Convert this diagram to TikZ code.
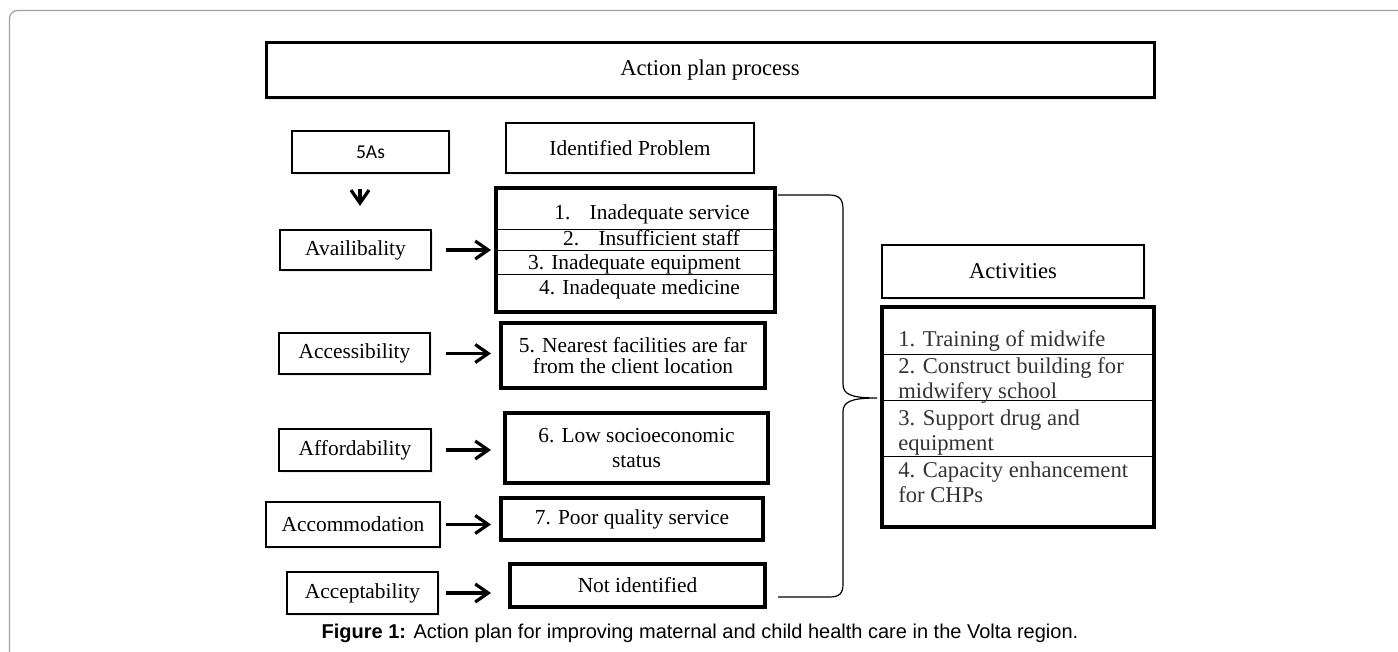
\documentclass[tikz,border=0pt]{standalone}
\usepackage{fontspec}
\setmainfont{Liberation Serif}
\newfontfamily\capfont{Liberation Sans}
\newfontfamily\calfont{Carlito}
\usepackage{tikz}
\usetikzlibrary{positioning,arrows.meta,shadows}
\def\txt{\fontsize{10.7}{12.5}\selectfont}
\def\bigtxt{\fontsize{11.3}{12.7}\selectfont}
\tikzset{
box/.style={draw, line width=1.1pt, inner sep=0pt, fill=white, drop shadow={opacity=0.15, shadow xshift=0.8pt, shadow yshift=-0.8pt}},
thickbox/.style={box, line width=1.7pt},
item/.style={inner sep=0pt, anchor=base},
sep/.style={line width=0.5pt},
arr/.style={-{Straight Barb[length=6.5pt,width=9pt]}, line width=1.6pt},
brace/.style={line width=0.6pt},
frame/.style={draw=gray!75, line width=0.6pt, rounded corners=4pt}
}

\begin{document}
\begin{tikzpicture}[x=0.5pt,y=-0.5pt,font=\txt]
\clip (0,0) rectangle (1398,652);
\draw[frame] (9.5,10.5) rectangle (1430,690);

\node[box, line width=1.5pt, minimum width=444pt, minimum height=27.5pt, font=\bigtxt] (title) at (710,70.5) {Action plan process};
\node[box, minimum width=78.5pt, minimum height=21pt, font=\calfont\fontsize{9.8}{11}\selectfont] (fiveA) at (370.5,152) {5As};
\node[box, minimum width=124pt, minimum height=25pt] (idprob) at (630,148) {Identified Problem};
\node[box, minimum width=131pt, minimum height=26.5pt, font=\bigtxt] (activ) at (1013,271.5) {Activities};

\node[box, minimum width=75.5pt, minimum height=20pt] (avail) at (355.5,250) {Availibality};
\node[box, minimum width=75.5pt, minimum height=20.5pt] (access) at (354.5,353.5) {Accessibility};
\node[box, minimum width=76pt, minimum height=21pt] (afford) at (355,450) {Affordability};
\node[box, minimum width=87pt, minimum height=22.5pt] (accom) at (353,524.5) {Accommodation};
\node[box, minimum width=75.5pt, minimum height=21pt] (accept) at (362.5,593) {Acceptability};

\node[thickbox, minimum width=139.5pt, minimum height=62pt] (prob) at (635.5,250) {};
\node[thickbox, minimum width=132pt, minimum height=32.5pt, align=center, font=\fontsize{10.7}{10.5}\selectfont] (near) at (633,355.5) {5. Nearest facilities are far\\from the client location};
\node[thickbox, minimum width=131.5pt, minimum height=35pt, align=center] (lowse) at (636.5,448) {6. Low socioeconomic\\status};
\node[thickbox, minimum width=131pt, minimum height=21pt] (poor) at (632,519) {7. Poor quality service};
\node[thickbox, minimum width=127.5pt, minimum height=21.5pt] (notid) at (637.5,585.5) {Not identified};

\node[thickbox, minimum width=136pt, minimum height=110pt] (actlist) at (1018,417) {};

\foreach \d in {21.5,32,44}
  \draw[sep] ([yshift=-\d pt]prob.north west) -- ([yshift=-\d pt]prob.north east);
\foreach \x/\y/\t [count=\i] in {652/220/{1.\hspace{0.9em}Inadequate service}, 651.5/246/{2.\hspace{0.9em}Insufficient staff}, 634.5/270/{3. Inadequate equipment}, 639.5/295/{4. Inadequate medicine}}
  \node[item] (p\i) at (\x,\y) {\t};

\foreach \d in {24.5,47.5,75.5}
  \draw[sep] ([yshift=-\d pt]actlist.north west) -- ([yshift=-\d pt]actlist.north east);
\foreach \y/\t [count=\i] in {347/1. Training of midwife, 373/2. Construct building for, 398/midwifery school, 425/3. Support drug and, 450/equipment, 477/4. Capacity enhancement, 502/for CHPs}
  \node[item, anchor=base west, font=\bigtxt, text=black!80] (act\i) at (898,\y) {\t};

\coordinate (arrx) at (360,0);
\coordinate (arrs) at (446,0);
\coordinate (arre) at (491,0);
\draw[arr, shorten <=7.5pt, shorten >=11.5pt] (fiveA.south -| arrx) -- (avail.north -| arrx);
\foreach \a in {avail,access,afford,accom,accept}
  \draw[arr] (\a.east -| arrs) -- (\a.east -| arre);

\draw[brace] (778,195) -- (829,195) .. controls (839,195) and (843,199) .. (843,209) -- (843,384) .. controls (843,394) and (850,398) .. (877,398) .. controls (850,398) and (843,402) .. (843,412) -- (843,584) .. controls (843,594) and (839,597) .. (829,597) -- (778,597);

\node[item, font=\capfont\fontsize{10}{12}\selectfont] (cap) at (700,638) {\textbf{Figure 1:} Action plan for improving maternal and child health care in the Volta region.};
\end{tikzpicture}
\end{document}
